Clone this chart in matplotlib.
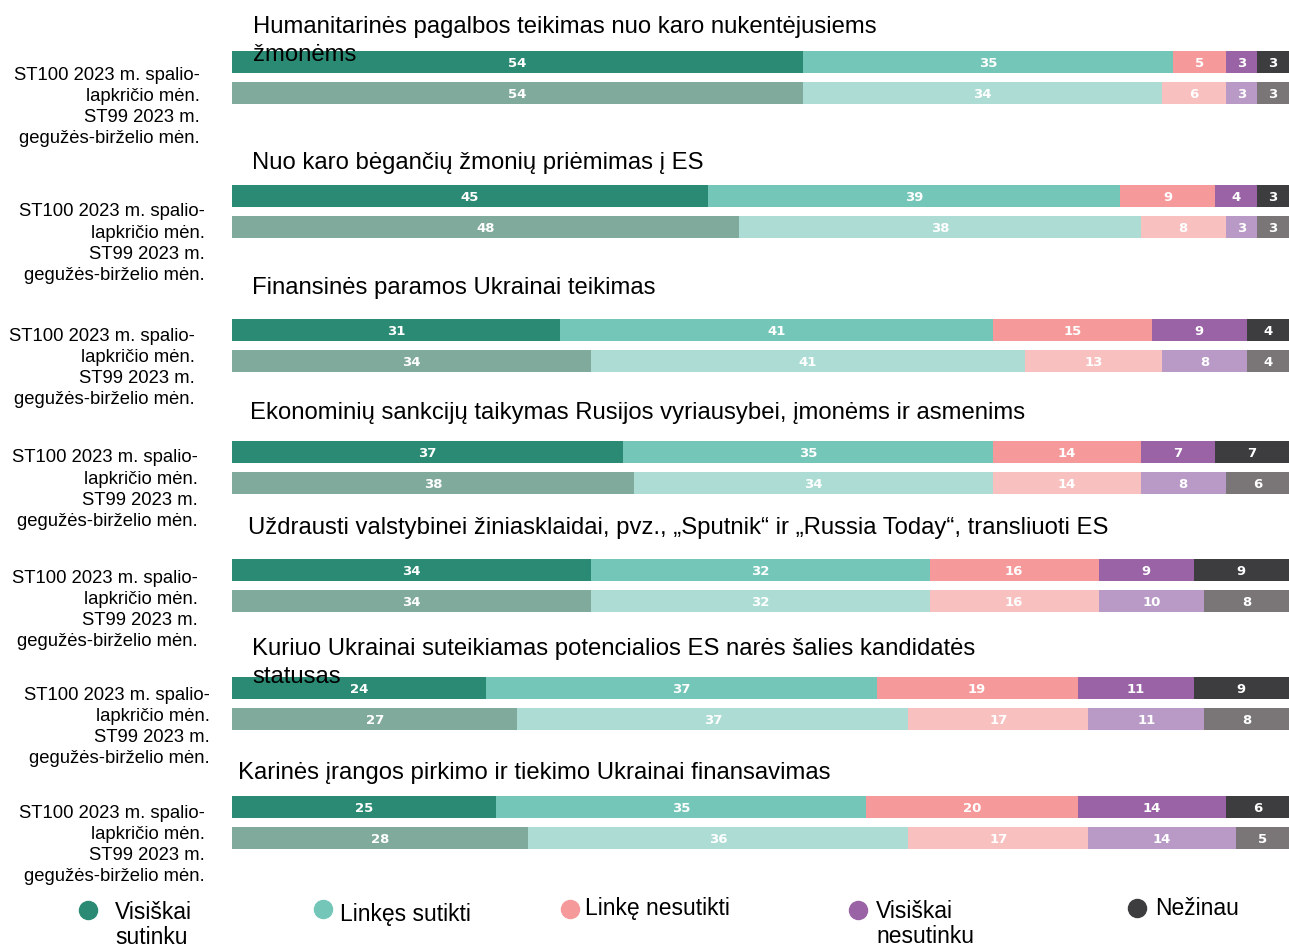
import matplotlib.pyplot as plt
import numpy as np

W, H = 1289, 946

topics = [
    "Humanitarinės pagalbos teikimas nuo karo nukentėjusiems\nžmonėms",
    "Nuo karo bėgančių žmonių priėmimas į ES",
    "Finansinės paramos Ukrainai teikimas",
    "Ekonominių sankcijų taikymas Rusijos vyriausybei, įmonėms ir asmenims",
    "Uždrausti valstybinei žiniasklaidai, pvz., „Sputnik“ ir „Russia Today“, transliuoti ES",
    "Kuriuo Ukrainai suteikiamas potencialios ES narės šalies kandidatės\nstatusas",
    "Karinės įrangos pirkimo ir tiekimo Ukrainai finansavimas",
]
categories = ["Visiškai\nsutinku", "Linkęs sutikti", "Linkę nesutikti", "Visiškai\nnesutinku", "Nežinau"]

st100 = [
    [54, 35, 5, 3, 3],
    [45, 39, 9, 4, 3],
    [31, 41, 15, 9, 4],
    [37, 35, 14, 7, 7],
    [34, 32, 16, 9, 9],
    [24, 37, 19, 11, 9],
    [25, 35, 20, 14, 6],
]
st99 = [
    [54, 34, 6, 3, 3],
    [48, 38, 8, 3, 3],
    [34, 41, 13, 8, 4],
    [38, 34, 14, 8, 6],
    [34, 32, 16, 10, 8],
    [27, 37, 17, 11, 8],
    [28, 36, 17, 14, 5],
]
wave_label = "ST100 2023 m. spalio-\nlapkričio mėn.\nST99 2023 m.\ngegužės-birželio mėn."

colors_now = ["#2a8a74", "#74c6b8", "#f6999a", "#9a63a6", "#3d3d3f"]
colors_prev = ["#80aa9c", "#acdcd3", "#f8c0bf", "#b99ac6", "#7a7576"]

# layout in pixels
bar_top_y = [62, 196, 330, 452, 570, 688, 807]
title_pos = [(253, 27), (252, 163), (252, 288), (250, 413), (248, 528), (252, 649), (238, 773)]
label_pos = [(200, 75), (205, 212), (195, 336), (198, 458), (198, 578), (210, 695), (205, 813)]
x0, x1 = 232, 1289
step = 31

plt.rcParams["font.family"] = ["Liberation Sans", "DejaVu Sans"]
fig = plt.figure(figsize=(W / 100, H / 100), dpi=100)


def fy(y):
    return 1 - y / H


for i in range(len(topics)):
    yc = bar_top_y[i]
    ax = fig.add_axes([x0 / W, fy(yc + step * 1.5), (x1 - x0) / W, step * 2 / H])
    ax.set_xlim(0, 100)
    ax.set_ylim(1.5, -0.5)
    ax.axis("off")
    for row, (vals, cols) in enumerate([(st100[i], colors_now), (st99[i], colors_prev)]):
        left = 0
        for v, c in zip(vals, cols):
            ax.barh(row, v, left=left, height=0.74, color=c, edgecolor="none")
            ax.text(left + v / 2, row + 0.04, str(v), ha="center", va="center",
                    color="white", fontsize=9.5, fontweight="bold", family="DejaVu Sans")
            left += v
    # topic title, one line at a time so the wrap sits over the bar like the original
    tx, ty = title_pos[i]
    for k, line in enumerate(topics[i].split("\n")):
        fig.text(tx / W, fy(ty + k * 28), line, ha="left", va="center", fontsize=17.2,
                 zorder=10)
    lx, ly = label_pos[i]
    for k, line in enumerate(wave_label.split("\n")):
        fig.text(lx / W, fy(ly + k * 21.3), line, ha="right", va="center", fontsize=13.3)

# legend
leg_marker = [(88, 910), (323, 909), (570, 909), (858, 910), (1137, 908)]
leg_text = [(115, 912), (340, 914), (585, 908), (876, 911), (1155, 908)]
for (mx, my), (tx, ty), lab, c in zip(leg_marker, leg_text, categories, colors_now):
    fig.add_artist(plt.Line2D([mx / W], [fy(my)], marker="o", markersize=13,
                              color=c, linestyle="none", transform=fig.transFigure))
    for k, line in enumerate(lab.split("\n")):
        fig.text(tx / W, fy(ty + k * 25), line, ha="left", va="center", fontsize=16.5)

fig.savefig("out.png", dpi=100)
